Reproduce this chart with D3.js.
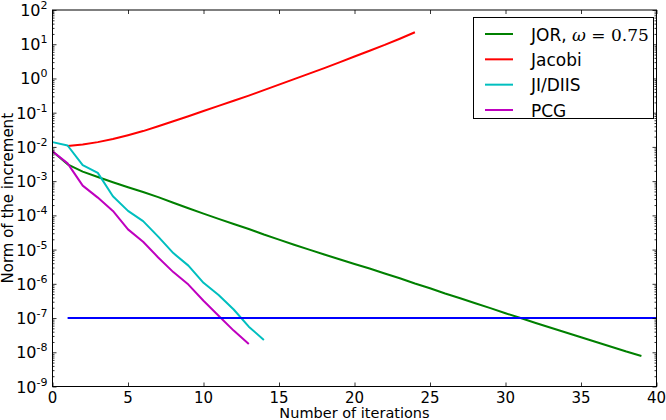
<!DOCTYPE html>
<html>
<head>
<meta charset="utf-8">
<script src="https://cdn.jsdelivr.net/npm/d3@7"></script>
<style>
  body { margin: 0; background: #fff; }
  svg { display: block; font-family: "DejaVu Sans", sans-serif; }
</style>
</head>
<body>
<div id="chart"></div>
<script>
// iteration numbers and norms of the increment
const jorIter = d3.range(0, 40);
const jorNorm = [7.4e-3, 3.1e-3, 1.9e-3, 1.32e-3, 9.3e-4, 6.6e-4, 4.8e-4, 3.4e-4, 2.34e-4, 1.62e-4,
  1.12e-4, 7.9e-5, 5.6e-5, 4.0e-5, 2.75e-5, 1.95e-5, 1.38e-5, 1.0e-5, 7.2e-6, 5.2e-6,
  3.8e-6, 2.8e-6, 2.0e-6, 1.45e-6, 1.02e-6, 7.4e-7, 5.2e-7, 3.8e-7, 2.7e-7, 1.95e-7,
  1.38e-7, 1.0e-7, 7.2e-8, 5.2e-8, 3.8e-8, 2.75e-8, 2.0e-8, 1.45e-8, 1.05e-8, 7.8e-9];

const jacobiIter = d3.range(1, 25);
const jacobiNorm = [1.07e-2, 1.17e-2, 1.38e-2, 1.7e-2, 2.2e-2, 2.9e-2, 4.0e-2, 5.6e-2, 7.9e-2, 0.112,
  0.158, 0.224, 0.316, 0.457, 0.66, 0.955, 1.38, 2.0, 2.95, 4.37, 6.46, 9.55, 14.5, 22.4];

const diisIter = d3.range(0, 15);
const diisNorm = [1.38e-2, 1.1e-2, 2.95e-3, 1.74e-3, 3.6e-4, 1.35e-4, 6.8e-5, 2.4e-5, 7.9e-6, 3.4e-6,
  1.07e-6, 4.7e-7, 1.78e-7, 5.6e-8, 2.3e-8];

const pcgIter = d3.range(0, 14);
const pcgNorm = [7.4e-3, 3.3e-3, 7.4e-4, 3.3e-4, 1.35e-4, 3.9e-5, 1.7e-5, 5.9e-6, 2.2e-6, 9.5e-7,
  3.2e-7, 1.17e-7, 4.3e-8, 1.74e-8];

const tolIter = [1, 40];
const tolNorm = [1e-7, 1e-7];

const xTicks = [0, 5, 10, 15, 20, 25, 30, 35, 40];
const yExponents = [2, 1, 0, -1, -2, -3, -4, -5, -6, -7, -8, -9];

const series = [
  {name: "JOR", iter: jorIter, norm: jorNorm, color: "#008000"},
  {name: "Jacobi", iter: jacobiIter, norm: jacobiNorm, color: "#ff0000"},
  {name: "JI/DIIS", iter: diisIter, norm: diisNorm, color: "#00bfbf"},
  {name: "PCG", iter: pcgIter, norm: pcgNorm, color: "#bf00bf"}
];

const width = 666, height = 420;
const margin = {top: 10, right: 9.5, bottom: 33.5, left: 52.5};
const w = width - margin.left - margin.right;
const h = height - margin.top - margin.bottom;

const svg = d3.select("#chart").append("svg")
  .attr("width", width).attr("height", height);

const x = d3.scaleLinear().domain([0, 40]).range([0, w]);
const y = d3.scaleLog().domain([1e-9, 1e2]).range([h, 0]);

const g = svg.append("g").attr("transform", `translate(${margin.left},${margin.top})`);

svg.append("defs").append("clipPath").attr("id", "clip")
  .append("rect").attr("width", w).attr("height", h);

// lines
const plot = g.append("g").attr("clip-path", "url(#clip)");
const line = d3.line().x(d => x(d[0])).y(d => y(d[1]));

series.forEach(s => {
  plot.append("path")
    .datum(d3.zip(s.iter, s.norm))
    .attr("fill", "none")
    .attr("stroke", s.color)
    .attr("stroke-width", 2)
    .attr("stroke-linejoin", "round")
    .attr("d", line);
});

plot.append("path")
  .datum(d3.zip(tolIter, tolNorm))
  .attr("fill", "none")
  .attr("stroke", "#0000ff")
  .attr("stroke-width", 2)
  .attr("d", line);

// ticks, inward on all four sides
const majorY = yExponents.map(e => Math.pow(10, e));
const minorY = [];
yExponents.slice(1).forEach(e => {
  for (let k = 2; k <= 9; k++) minorY.push(k * Math.pow(10, e));
});

function styleAxis(sel) {
  sel.select(".domain").remove();
  sel.selectAll(".tick line").attr("stroke", "#000").attr("stroke-width", 0.8);
  sel.selectAll(".tick text").remove();
}

g.append("g").call(d3.axisBottom(x).tickValues(xTicks).tickSize(-4)).attr("transform", `translate(0,${h})`).call(styleAxis);
g.append("g").call(d3.axisTop(x).tickValues(xTicks).tickSize(-4)).call(styleAxis);
g.append("g").call(d3.axisLeft(y).tickValues(majorY).tickSize(-4)).call(styleAxis);
g.append("g").call(d3.axisLeft(y).tickValues(minorY).tickSize(-2)).call(styleAxis);
g.append("g").call(d3.axisRight(y).tickValues(majorY).tickSize(-4)).attr("transform", `translate(${w},0)`).call(styleAxis);
g.append("g").call(d3.axisRight(y).tickValues(minorY).tickSize(-2)).attr("transform", `translate(${w},0)`).call(styleAxis);

// frame
g.append("rect").attr("width", w).attr("height", h)
  .attr("fill", "none").attr("stroke", "#000").attr("stroke-width", 1);

// tick labels
g.selectAll(".xlab").data(xTicks).enter().append("text")
  .attr("x", d => x(d)).attr("y", h + 16)
  .attr("text-anchor", "middle").attr("font-size", 15)
  .text(d => d);

const ylab = g.selectAll(".ylab").data(yExponents).enter().append("text")
  .attr("x", -5).attr("y", d => y(Math.pow(10, d)) + 6)
  .attr("text-anchor", "end").attr("font-size", 16);
ylab.append("tspan").text("10");
ylab.append("tspan").attr("dy", -7).attr("font-size", 11).text(d => d < 0 ? "-" + (-d) : d);

// axis titles
svg.append("text")
  .attr("x", margin.left + w / 2).attr("y", 418)
  .attr("text-anchor", "middle").attr("font-size", 14.5)
  .text("Number of iterations");

svg.append("text")
  .attr("transform", `translate(13,${margin.top + h / 2}) rotate(-90)`)
  .attr("text-anchor", "middle").attr("font-size", 15)
  .text("Norm of the increment");

// legend
const leg = svg.append("g");
leg.append("rect")
  .attr("x", 473.5).attr("y", 17.5).attr("width", 180).attr("height", 101)
  .attr("fill", "#fff").attr("stroke", "#000").attr("stroke-width", 1);

const rowY = d3.scalePoint().domain(series.map(s => s.name)).range([34, 110]);
series.forEach(s => {
  leg.append("line")
    .attr("x1", 485).attr("x2", 513)
    .attr("y1", rowY(s.name)).attr("y2", rowY(s.name))
    .attr("stroke", s.color).attr("stroke-width", 2);
  const t = leg.append("text")
    .attr("x", 531).attr("y", rowY(s.name) + 6.5)
    .attr("font-size", 17);
  if (s.name === "JOR") {
    t.append("tspan").text("JOR, ");
    t.append("tspan").attr("font-family", "DejaVu Serif").attr("font-style", "italic").text("ω");
    t.append("tspan").attr("font-family", "DejaVu Serif").text(" = 0.75");
  } else {
    t.text(s.name);
  }
});
</script>
</body>
</html>
